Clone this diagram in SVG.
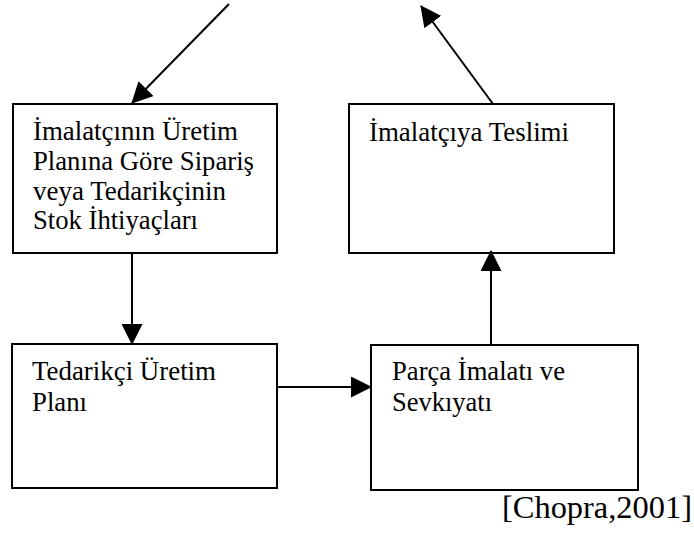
<svg xmlns="http://www.w3.org/2000/svg" width="694" height="540" viewBox="0 0 694 540">
<style>
.box{fill:#fff;stroke:#000;stroke-width:2}
text{font-family:"Liberation Serif","Times New Roman",serif;fill:#000}
.lbl{font-size:26.5px}
.cite{font-size:32px}
.con{stroke:#000;stroke-width:2;fill:none;marker-end:url(#ah)}
</style>
<defs>
<marker id="ah" markerUnits="userSpaceOnUse" markerWidth="21" markerHeight="21" refX="20" refY="10.5" orient="auto" viewBox="0 0 21 21">
<path d="M0,0 L21,10.5 L0,21 z" fill="#000"/>
</marker>
</defs>
<rect width="694" height="540" fill="#fff"/>
<g id="n1">
<rect class="box" x="13" y="104" width="264" height="149"/>
<text class="lbl" x="33" y="140" textLength="205" lengthAdjust="spacingAndGlyphs">İmalatçının Üretim</text>
<text class="lbl" x="33" y="170" textLength="221" lengthAdjust="spacingAndGlyphs">Planına Göre Sipariş</text>
<text class="lbl" x="33" y="199.5" textLength="193" lengthAdjust="spacingAndGlyphs">veya Tedarikçinin</text>
<text class="lbl" x="33" y="229" textLength="165" lengthAdjust="spacingAndGlyphs">Stok İhtiyaçları</text>
</g>
<g id="n2">
<rect class="box" x="349" y="104" width="265" height="149"/>
<text class="lbl" x="369" y="141" textLength="200" lengthAdjust="spacingAndGlyphs">İmalatçıya Teslimi</text>
</g>
<g id="n3">
<rect class="box" x="12" y="344" width="265" height="144"/>
<text class="lbl" x="32" y="380" textLength="184" lengthAdjust="spacingAndGlyphs">Tedarikçi Üretim</text>
<text class="lbl" x="32" y="411" textLength="55" lengthAdjust="spacingAndGlyphs">Planı</text>
</g>
<g id="n4">
<rect class="box" x="371" y="345" width="267" height="145"/>
<text class="lbl" x="392" y="380" textLength="173" lengthAdjust="spacingAndGlyphs">Parça İmalatı ve</text>
<text class="lbl" x="392" y="411" textLength="100" lengthAdjust="spacingAndGlyphs">Sevkıyatı</text>
</g>
<g id="connectors">
<line class="con" x1="229" y1="4" x2="132" y2="103"/>
<line class="con" x1="493" y1="104" x2="421" y2="6"/>
<line class="con" x1="132" y1="253" x2="132" y2="344"/>
<line class="con" x1="277" y1="387" x2="371" y2="387"/>
<line class="con" x1="491" y1="345" x2="491" y2="251"/>
</g>
<text class="cite" x="502" y="518" textLength="190" lengthAdjust="spacingAndGlyphs">[Chopra,2001]</text>
</svg>
